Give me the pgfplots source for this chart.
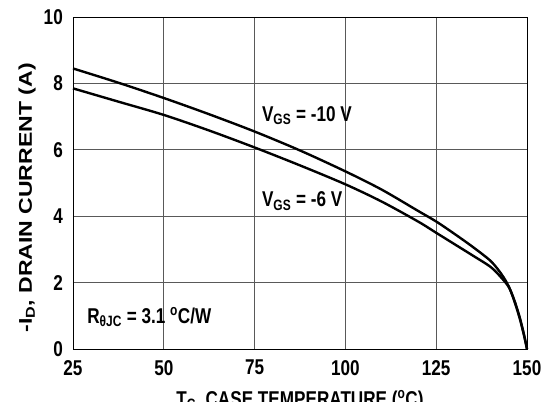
\documentclass[border=0pt]{standalone}
\usepackage{fontspec}
\setmainfont{Liberation Sans}[FakeStretch=0.8]
\newfontfamily\yfont{Liberation Sans}[FakeStretch=1.25]
\usepackage{pgfplots}
\pgfplotsset{compat=1.18}
\newcommand{\tf}{\fontsize{21.5}{24}\selectfont\bfseries}
\begin{document}
\begin{tikzpicture}
\begin{axis}[
  name=ax,
  scale only axis,
  width=454bp, height=332bp,
  xmin=25, xmax=150, ymin=0, ymax=10,
  xtick={25,50,75,100,125,150},
  ytick={0,2,4,6,8,10},
  grid=major,
  major grid style={black!65, line width=0.7pt},
  axis line style={black, line width=0.8pt},
  major tick length=0pt,
  tick style={draw=none},
  /pgf/number format/assume math mode=true,
  ticklabel style={font=\tf, inner sep=0pt},
  xticklabel style={anchor=north, yshift=-11bp},
  yticklabel style={anchor=east, xshift=-10bp},
  xlabel={T\textsubscript{C}, CASE TEMPERATURE (\textsuperscript{o}C)},
  ylabel={-I\textsubscript{D}, DRAIN CURRENT (A)},
  xlabel style={font=\tf, inner sep=0pt, at={(axis description cs:0.5,0)}, anchor=base, yshift=-57.4bp},
  ylabel style={font=\yfont\fontsize{18.5}{21}\selectfont\bfseries, inner sep=0pt, at={(axis description cs:0,0.455)}, anchor=base, yshift=41bp},
  clip=false,
]
\addplot[black, line width=2.4pt, smooth] coordinates {
(25,8.45) (37.5,8.02) (50,7.56) (62.5,7.07) (75,6.55) (87.5,5.98) (100,5.35)
(110,4.80) (120,4.16) (125,3.84) (130,3.47) (135,3.08) (140,2.65) (143,2.25)
(145,1.88) (146.5,1.45) (148,0.92) (149.2,0.4) (150,0)};
\addplot[black, line width=2.4pt, smooth] coordinates {
(25,7.85) (37.5,7.45) (50,7.05) (62.5,6.58) (75,6.07) (87.5,5.53) (100,4.96)
(110,4.44) (120,3.84) (125,3.50) (130,3.16) (135,2.82) (140,2.47) (143,2.14)
(145,1.86) (146.5,1.47) (148,0.95) (149.2,0.42) (150,0)};
\node[anchor=base west, inner sep=0pt, font=\tf] at (axis cs:77,6.85) {V\textsubscript{GS} = -10 V};
\node[anchor=base west, inner sep=0pt, font=\tf] at (axis cs:77,4.28) {V\textsubscript{GS} = -6 V};
\node[anchor=base west, inner sep=0pt, font=\tf] at (axis cs:28.9,0.78) {R\textsubscript{θJC} = 3.1 \textsuperscript{o}C/W};
\end{axis}
\pgfresetboundingbox
\path[use as bounding box] ([shift={(-73bp,-53bp)}]ax.south west) rectangle ([shift={(20bp,17bp)}]ax.north east);
\end{tikzpicture}
\end{document}
